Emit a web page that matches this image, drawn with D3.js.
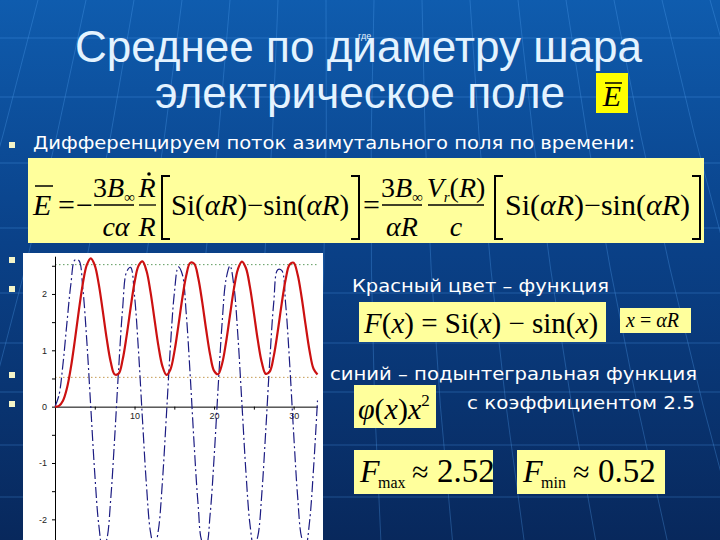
<!DOCTYPE html>
<html><head><meta charset="utf-8">
<script src="https://cdn.jsdelivr.net/npm/d3@7"></script>
<style>html,body{margin:0;padding:0;background:#0a3d82;overflow:hidden}</style>
</head><body><svg id="s" width="720" height="540"></svg>
<script>
// ---- data ----
const xValues = [0,0.5,1,1.5,2,2.5,3,3.5,4,4.5,5,5.5,6,6.5,7,7.5,8,8.5,9,9.5,10,10.5,11,11.5,12,12.5,13,13.5,14,14.5,15,15.5,16,16.5,17,17.5,18,18.5,19,19.5,20,20.5,21,21.5,22,22.5,23,23.5,24,24.5,25,25.5,26,26.5,27,27.5,28,28.5,29,29.5,30,30.5,31,31.5,32,32.5,33];
// red: F(x) = Si(x) - sin(x)
const redValues = [0,0.014,0.105,0.327,0.696,1.180,1.708,2.184,2.515,2.632,2.509,2.174,1.704,1.207,0.798,0.573,0.585,0.831,1.253,1.750,2.202,2.502,2.578,2.411,2.042,1.559,1.079,0.719,0.565,0.656,0.968,1.426,1.919,2.328,2.552,2.537,2.288,1.864,1.369,0.923,0.635,0.576,0.758,1.139,1.625,2.098,2.442,2.573,2.460,2.130,1.664,1.175,0.782,0.582,0.624,0.897,1.334,1.829,2.261,2.524,2.555,2.345,1.946,1.455,0.993,0.672,0.570];
// blue: integrand phi(x)x^2 times 2.5
const blueValues = [0,0.203,0.753,1.486,2.177,2.601,2.593,2.091,1.161,-0.016,-1.189,-2.093,-2.517,-2.359,-1.650,-0.554,0.673,1.740,2.392,2.473,1.962,0.979,-0.238,-1.399,-2.222,-2.508,-2.188,-1.339,-0.165,1.049,2.008,2.479,2.349,1.649,0.547,-0.688,-1.755,-2.395,-2.452,-1.912,-0.906,0.321,1.469,2.259,2.499,2.129,1.240,0.049,-1.155,-2.076,-2.491,-2.298,-1.544,-0.413,0.819,1.851,2.431,2.417,1.813,0.767,-0.468,-1.588,-2.319,-2.485,-2.043,-1.101,0.109];
const refLevels = [2.52, 0.52];
const yTickValues = [-2,-1.5,-1,-0.5,0,0.5,1,1.5,2,2.5];
const yTickLabels = {"-2":"-2","-1":"-1","0":"0","1":"1","2":"2"};
const xTickValues = [5,10,15,20,25,30];
const xTickLabels = {"10":"10","20":"20","30":"30"};

const svg = d3.select("#s");
const defs = svg.append("defs");
const gr = defs.append("linearGradient").attr("id","bg").attr("x1",0).attr("y1",0).attr("x2",0).attr("y2",1);
gr.append("stop").attr("offset","0%").attr("stop-color","#0f5cae");
gr.append("stop").attr("offset","45%").attr("stop-color","#0a4188");
gr.append("stop").attr("offset","100%").attr("stop-color","#08285c");
svg.append("rect").attr("width",720).attr("height",540).attr("fill","url(#bg)");

// decorative grid of the slide background
const deco = svg.append("g").attr("stroke","#56a6f4").attr("stroke-opacity",0.3).attr("fill","none").attr("stroke-width",1);
[38,97,163,228,293,343,392,445,497].forEach(yy => deco.append("line").attr("x1",0).attr("x2",720).attr("y1",yy).attr("y2",yy));
for (let k=-8;k<=22;k++){
  const x0 = k*48 - 10, fx = 360, fy = -1100;
  const t = (540 - fy)/(0 - fy);
  const x1 = fx + (x0 - fx)*t;
  const cx = (x0 + x1)/2 + (x0 < fx ? 12 : -12);
  deco.append("path").attr("d",`M${x0},0 Q${cx},270 ${x1},540`);
}

const white = "#e4f3ff";
// title
svg.append("text").attr("x",75).attr("y",62).attr("font-family","Liberation Sans, Arial").attr("font-size",44)
  .attr("fill",white).attr("textLength",567).attr("lengthAdjust","spacingAndGlyphs").text("Среднее по диаметру шара");
svg.append("text").attr("x",155).attr("y",108).attr("font-family","Liberation Sans, Arial").attr("font-size",44)
  .attr("fill",white).attr("textLength",410).attr("lengthAdjust","spacingAndGlyphs").text("электрическое поле");
svg.append("text").attr("x",358).attr("y",39).attr("font-family","Liberation Sans, Arial").attr("font-size",9)
  .attr("fill",white).text("где");

// bullets
[[9,142],[9,257],[9,286],[9,372],[9,401]].forEach(p => svg.append("rect").attr("x",p[0]).attr("y",p[1]).attr("width",6).attr("height",6).attr("fill","#f4f4c8"));

const sans = "DejaVu Sans, Verdana";
function line(txt, x, y, len){
  const t = svg.append("text").attr("x",x).attr("y",y).attr("font-family",sans).attr("font-size",18.5).attr("fill","#ffffff").text(txt);
  if (len) t.attr("textLength",len).attr("lengthAdjust","spacingAndGlyphs");
  return t;
}
line("Дифференцируем поток азимутального поля по времени:", 33, 149, 602);
line("Красный цвет – функция", 352, 292, 257);
line("синий – подынтегральная функция", 330, 380, 367);
line("с коэффициентом 2.5", 467, 409, 228);

// ---- formula boxes (backgrounds first) ----
const pale = "#ffff9c";
const boxes = svg.append("g");
boxes.append("rect").attr("x",596).attr("y",73).attr("width",32).attr("height",40).attr("fill","#ffff00");
boxes.append("rect").attr("x",28).attr("y",158).attr("width",676).attr("height",85).attr("fill",pale);
boxes.append("rect").attr("x",359).attr("y",302).attr("width",247).attr("height",40).attr("fill",pale);
boxes.append("rect").attr("x",620).attr("y",308).attr("width",71).attr("height",25).attr("fill",pale);
boxes.append("rect").attr("x",354).attr("y",385).attr("width",82).attr("height",43).attr("fill",pale);
boxes.append("rect").attr("x",354).attr("y",450).attr("width",139).attr("height",44).attr("fill",pale);
boxes.append("rect").attr("x",517).attr("y",450).attr("width",148).attr("height",44).attr("fill",pale);

const serif = "Liberation Serif, Times New Roman";
const F = svg.append("g").attr("font-family",serif).attr("fill","#000");
function tx(x,y,size,anchor){ return F.append("text").attr("x",x).attr("y",y).attr("font-size",size).attr("text-anchor",anchor||"start"); }
function hl(x1,x2,yy,w){ F.append("line").attr("x1",x1).attr("x2",x2).attr("y1",yy).attr("y2",yy).attr("stroke","#000").attr("stroke-width",w||1.3); }
function bracket(xx, dir){ const w = 8*dir; F.append("path").attr("d",`M${xx+w},176 L${xx},176 L${xx},239 L${xx+w},239`).attr("fill","none").attr("stroke","#000").attr("stroke-width",2); }
function siExpr(x, len){
  const t = tx(x,215,29); t.attr("textLength",len).attr("lengthAdjust","spacingAndGlyphs");
  t.append("tspan").text("Si(");
  t.append("tspan").attr("font-style","italic").text("αR");
  t.append("tspan").text(")−sin(");
  t.append("tspan").attr("font-style","italic").text("αR");
  t.append("tspan").text(")");
}
// E-bar in title
tx(612,106,30,"middle").attr("font-style","italic").text("E");
hl(605,622,83,1.5);

// main formula
tx(33,215,30).attr("font-style","italic").text("E");
hl(35,53,186,1.5);
tx(58,215,30).text("=");
tx(76,215,30).text("−");
let t = tx(114,197,28,"middle"); t.append("tspan").text("3"); t.append("tspan").attr("font-style","italic").text("B"); t.append("tspan").attr("font-size",15).attr("dy",5).text("∞");
hl(94,134,205);
tx(116,236,28,"middle").attr("font-style","italic").text("cα");
tx(147,197,28,"middle").attr("font-style","italic").text("R");
F.append("circle").attr("cx",149).attr("cy",174).attr("r",1.8).attr("fill","#000");
hl(139,156,205);
tx(147,236,28,"middle").attr("font-style","italic").text("R");
bracket(162,1); siExpr(171,178); bracket(359,-1);
tx(363,215,30).text("=");
t = tx(402,197,28,"middle"); t.append("tspan").text("3"); t.append("tspan").attr("font-style","italic").text("B"); t.append("tspan").attr("font-size",15).attr("dy",5).text("∞");
hl(382,422,205);
tx(402,236,28,"middle").attr("font-style","italic").text("αR");
t = tx(456,197,28,"middle"); t.append("tspan").attr("font-style","italic").text("V"); t.append("tspan").attr("font-style","italic").attr("font-size",15).attr("dy",5).text("r");
t.append("tspan").attr("dy",-5).text("("); t.append("tspan").attr("font-style","italic").text("R"); t.append("tspan").text(")");
hl(428,484,205);
tx(456,236,28,"middle").attr("font-style","italic").text("c");
bracket(495,1); siExpr(505,185); bracket(700,-1);

// F(x) formula
t = tx(364,333,29);
t.append("tspan").attr("font-style","italic").text("F"); t.append("tspan").text("(");
t.append("tspan").attr("font-style","italic").text("x"); t.append("tspan").text(") = Si(");
t.append("tspan").attr("font-style","italic").text("x"); t.append("tspan").text(") − sin(");
t.append("tspan").attr("font-style","italic").text("x"); t.append("tspan").text(")");
t = tx(626,327,20);
t.append("tspan").attr("font-style","italic").text("x"); t.append("tspan").text(" = ");
t.append("tspan").attr("font-style","italic").text("αR");

// phi(x)x^2
t = tx(358,419,30);
t.append("tspan").attr("font-style","italic").text("φ"); t.append("tspan").text("(");
t.append("tspan").attr("font-style","italic").text("x"); t.append("tspan").text(")");
t.append("tspan").attr("font-style","italic").text("x"); t.append("tspan").attr("font-size",17).attr("dy",-13).text("2");

// Fmax / Fmin
tx(360,482,32).attr("font-style","italic").text("F");
tx(378,488,16).text("max");
tx(412,482,30).text("≈");
tx(437,482,33).text("2.52");
tx(523,482,32).attr("font-style","italic").text("F");
tx(541,488,16).text("min");
tx(573,482,30).text("≈");
tx(598,482,33).text("0.52");

// ---- chart ----
svg.append("rect").attr("x",23).attr("y",253).attr("width",300).attr("height",290).attr("fill","#ffffff");
const x = d3.scaleLinear().domain([0,33]).range([55,317.5]);
const y = d3.scaleLinear().domain([-2.37,2.67]).range([540.2,256.2]);
const chart = svg.append("g");
chart.selectAll("line.ref").data(refLevels).join("line").attr("class","ref")
  .attr("x1",x(0)).attr("x2",x(33)).attr("y1",d=>y(d)).attr("y2",d=>y(d))
  .attr("stroke",(d,i)=> i===0 ? "#5e9a5e" : "#c49a52").attr("stroke-width",1).attr("stroke-dasharray","1.5,2.5");

const yAxis = chart.append("g").attr("transform",`translate(${x(0)},0)`)
  .call(d3.axisLeft(y).tickValues(yTickValues).tickSize(3).tickSizeOuter(0).tickPadding(5).tickFormat(d => yTickLabels[String(d)] || ""));
const xAxis = chart.append("g").attr("transform",`translate(0,${y(0)})`)
  .call(d3.axisBottom(x).tickValues(xTickValues).tickSize(3).tickSizeOuter(0).tickPadding(3).tickFormat(d => xTickLabels[String(d)] || ""));
[yAxis,xAxis].forEach(a => {
  a.attr("font-family","Liberation Sans, Arial").attr("font-size",9);
  a.selectAll("path,line").attr("stroke","#000");
  a.selectAll("text").attr("fill","#222");
});

const lineGen = d3.line().x((d,i)=>x(xValues[i])).y(d=>y(d)).curve(d3.curveCatmullRom.alpha(0.5));
chart.append("path").datum(blueValues).attr("d",lineGen).attr("fill","none")
  .attr("stroke","#1c1c82").attr("stroke-width",1.2).attr("stroke-dasharray","11,3,2,3");
chart.append("path").datum(redValues).attr("d",lineGen).attr("fill","none")
  .attr("stroke","#cc1111").attr("stroke-width",2.2);
</script></body></html>
